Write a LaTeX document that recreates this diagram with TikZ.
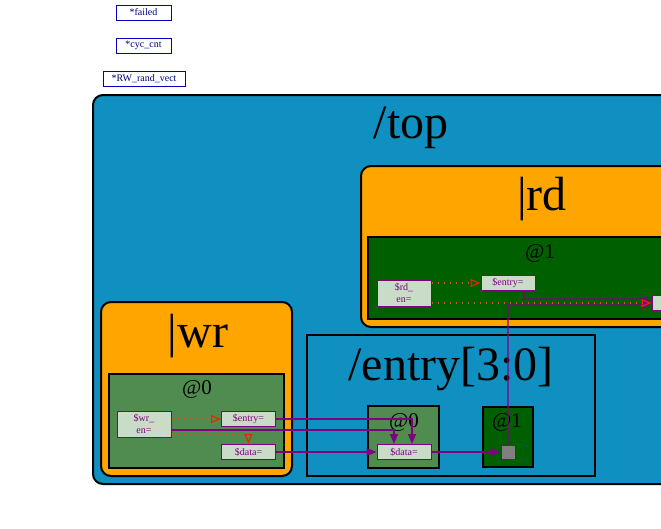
\documentclass[tikz,border=0pt]{standalone}
\usepackage{fontspec}
\setmainfont{Liberation Serif}
\usetikzlibrary{arrows.meta}

\definecolor{topblue}{RGB}{16,144,192}
\definecolor{instorange}{RGB}{255,165,0}
\definecolor{darkgen}{RGB}{0,96,0}
\definecolor{litegen}{RGB}{80,140,80}
\definecolor{portfill}{RGB}{200,220,200}
\definecolor{wirepurple}{RGB}{128,0,128}
\definecolor{dotorange}{RGB}{210,90,30}
\definecolor{tipred}{RGB}{230,40,0}
\definecolor{sigblue}{RGB}{0,0,190}

\begin{document}
\begin{tikzpicture}[x=1pt,y=-1pt,
    port/.style={draw=wirepurple, fill=portfill, text=wirepurple, font=\fontsize{10}{11.5}\selectfont,
      minimum width=54pt, minimum height=15pt, inner sep=0pt, line width=1pt},
    sig/.style={draw=sigblue, text=sigblue!70!black, font=\fontsize{10}{11}\selectfont,
      minimum height=15pt, inner sep=0pt, line width=0.8pt},
    wire/.style={wirepurple, line width=1.3pt, -{Triangle[length=10pt,width=8pt]}},
    enwire/.style={dotorange, line width=1.2pt, dash pattern=on 1pt off 5pt,
      -{Triangle[open,length=10pt,width=8pt,color=tipred,line width=1.2pt]}},
    biglabel/.style={anchor=base, inner sep=0pt, font=\fontsize{48}{48}\selectfont},
    genlabel/.style={anchor=base, inner sep=0pt, font=\fontsize{21}{21}\selectfont}]
  \useasboundingbox (0,0) rectangle (661,528);
  \clip (0,0) rectangle (661,528);

  \node[sig, minimum width=55pt] (failed) at (143.5,12.5) {*failed};
  \node[sig, minimum width=55pt] (cyccnt) at (143.5,45.5) {*cyc\_cnt};
  \node[sig, minimum width=82pt] (rwrand) at (144,78.5) {*RW\_rand\_vect};

  \draw[fill=topblue, line width=2pt, rounded corners=10pt] (93,95) rectangle (720,484);
  \node[biglabel] (toplbl) at (411,138) {/top};

  \draw[fill=instorange, line width=2pt, rounded corners=10pt] (361,166) rectangle (720,327);
  \node[biglabel] (rdlbl) at (542,210) {|rd};
  \draw[fill=darkgen, line width=1.2pt] (368,237) rectangle (720,319);
  \node[genlabel] (rdgen) at (540,258) {@1};

  \draw[fill=instorange, line width=2pt, rounded corners=10pt] (101,302) rectangle (292,476);
  \node[biglabel] (wrlbl) at (198,347) {|wr};
  \draw[fill=litegen, line width=1.2pt] (109,374) rectangle (284,468);
  \node[genlabel] (wrgen) at (197,394) {@0};

  \draw[line width=2pt] (307,335) rectangle (595,476);
  \node[biglabel] (entlbl) at (451,380) {/entry[3:0]};
  \draw[fill=litegen, line width=1.2pt] (368,406) rectangle (439,468);
  \node[genlabel] (entgena) at (404,427) {@0};
  \draw[fill=darkgen, line width=1.2pt] (483,407) rectangle (533,467);
  \node[genlabel] (entgenb) at (507,427) {@1};

  \node[port, minimum height=26pt, align=center] (rden) at (404,293) {\$rd\_\\en=};
  \node[port] (rdentry) at (508,283) {\$entry=};
  \node[port] (rdout) at (679,303) {};

  \node[port, minimum height=26pt, align=center] (wren) at (144,424) {\$wr\_\\en=};
  \node[port] (wrentry) at (248.5,419) {\$entry=};
  \node[port] (wrdata) at (248.5,452) {\$data=};

  \node[port] (entdata) at (404,452) {\$data=};
  \node[port, fill=gray, minimum width=14pt, minimum height=14pt] (entq) at (508,452) {};

  \draw[wire] ([xshift=16pt]rdentry.south) |- ([xshift=-10pt,yshift=4pt]rdout.west) -- (rdout.west);
  \draw[wire] (entq.north) |- ([xshift=-10pt,yshift=-2pt]rdout.west) -- (rdout.west);
  \draw[enwire] (rden.east |- rdentry.west) -- (rdentry.west);
  \draw[enwire] (rden.east |- rdout.west) -- (rdout.west);

  \draw[wire] ([yshift=-6pt]wren.east) -| ([xshift=-10pt]entdata.north);
  \draw[wire] (wrentry.east) -| ([xshift=8pt]entdata.north);
  \draw[wire] (wrdata.east) -- (entdata.west);
  \draw[wire] (entdata.east) -- (entq.west);
  \draw[enwire] (wren.east |- wrentry.west) -- (wrentry.west);
  \draw[enwire] ([yshift=-10pt]wren.east) -| (wrdata.north);
\end{tikzpicture}
\end{document}
